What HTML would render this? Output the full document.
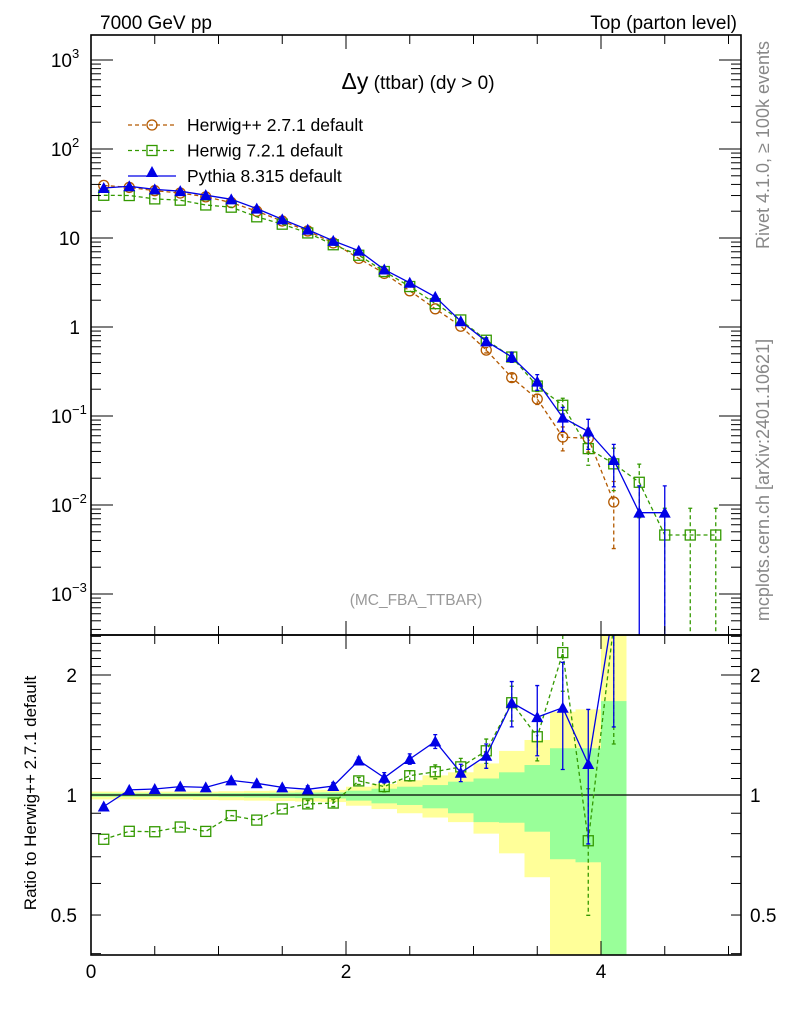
<!DOCTYPE html>
<html><head><meta charset="utf-8"><style>
html,body{margin:0;padding:0;background:#fff;}
svg{display:block;font-family:"Liberation Sans",sans-serif;}
</style></head><body>
<svg id="c" width="786" height="1024" viewBox="0 0 786 1024" xmlns="http://www.w3.org/2000/svg">
<g id="bands"></g>
<g id="main"></g>
<g id="ratio"></g>
<g id="axes"></g>
<text x="100" y="29" font-size="19">7000 GeV pp</text>
<text x="737" y="29" font-size="19" text-anchor="end">Top (parton level)</text>
<text x="418" y="89" font-size="19" text-anchor="middle"><tspan font-size="23">Δy</tspan> (ttbar) (dy &gt; 0)</text>
<text x="416" y="605" font-size="15.5" fill="#999" text-anchor="middle">(MC_FBA_TTBAR)</text>
<text transform="translate(769,145) rotate(-90)" font-size="18" fill="#888" text-anchor="middle">Rivet 4.1.0, ≥ 100k events</text>
<text transform="translate(769,480) rotate(-90)" font-size="18" fill="#888" text-anchor="middle">mcplots.cern.ch [arXiv:2401.10621]</text>
<text transform="translate(36,793) rotate(-90)" font-size="17" text-anchor="middle">Ratio to Herwig++ 2.7.1 default</text>
<g id="legend"></g>
</svg>
<script>
const centers=[0.1,0.3,0.5,0.7,0.9,1.1,1.3,1.5,1.7,1.9,2.1,2.3,2.5,2.7,2.9,3.1,3.3,3.5,3.7,3.9,4.1,4.3,4.5,4.7,4.9];
const hppVals=[39,37,34,32,29,25,20,15.5,12,8.8,5.9,4.0,2.55,1.6,1.02,0.55,0.27,0.155,0.058,0.056,0.0108];
const hppErr=[0.01,0.01,0.01,0.01,0.01,0.01,0.01,0.01,0.02,0.02,0.02,0.03,0.03,0.04,0.05,0.07,0.1,0.13,0.3,0.3,0.7];
const h7Vals=[30.2,30,27.5,26.6,23.5,22.2,17.3,14.3,11.4,8.4,6.4,4.2,2.85,1.83,1.2,0.71,0.46,0.217,0.132,0.043,0.029,0.018,0.0046,0.0046,0.0046];
const h7Err=[0.01,0.01,0.01,0.01,0.01,0.01,0.01,0.01,0.02,0.02,0.02,0.03,0.03,0.04,0.05,0.07,0.1,0.13,0.2,0.35,0.5,0.6,1,1,1];
const pyVals=[36.5,38.1,35.2,33.6,30.3,27.2,21.4,16.2,12.4,9.27,7.2,4.42,3.14,2.18,1.16,0.69,0.46,0.243,0.096,0.067,0.032,0.0082,0.0082];
const pyErr=[0.01,0.01,0.01,0.01,0.01,0.01,0.01,0.01,0.02,0.02,0.02,0.03,0.03,0.04,0.05,0.07,0.13,0.2,0.3,0.37,0.5,1,1];
const bandYHi=[1.02,1.02,1.02,1.02,1.02,1.022,1.024,1.026,1.028,1.03,1.049,1.066,1.089,1.12,1.14,1.2,1.29,1.374,1.618,1.64,3];
const bandGHi=[1.01,1.01,1.01,1.01,1.01,1.011,1.012,1.013,1.014,1.015,1.025,1.037,1.049,1.059,1.08,1.1,1.14,1.189,1.31,1.31,1.72];
const bandGLo=[0.99,0.99,0.99,0.99,0.99,0.988,0.986,0.984,0.982,0.98,0.968,0.953,0.944,0.926,0.9,0.855,0.852,0.809,0.69,0.678,0.3];
const bandYLo=[0.975,0.975,0.975,0.975,0.972,0.97,0.968,0.966,0.963,0.96,0.94,0.922,0.9,0.878,0.855,0.8,0.714,0.622,0.3,0.3,0.3];
const yTickExp=[-3,-2,-1,0,1,2,3];
const yTickText=["10","10","10","1","10","10","10"];
const yTickSup=["−3","−2","−1","","","2","3"];
const rTicks=[0.5,1,2];
const xTicks=[0,2,4];

const NS="http://www.w3.org/2000/svg";
const L=91,R=741,T=35,M=635,B=955;
const X=v=>L+(v/5.098)*(R-L);
const Y=v=>{const lv=Math.log10(Math.max(v,1e-9));return 327-(lv)*89;};
const YR=v=>795-Math.log10(Math.max(v,1e-9))*398.7;
function el(p,tag,a){const e=document.createElementNS(NS,tag);for(const k in a)e.setAttribute(k,a[k]);p.appendChild(e);return e;}
const main=document.getElementById('main'),ratio=document.getElementById('ratio'),bands=document.getElementById('bands'),axes=document.getElementById('axes'),legend=document.getElementById('legend');
const cm=(y)=>Math.min(Math.max(y,T),M), cr=(y)=>Math.min(Math.max(y,M),B);

bandYHi.forEach((v,i)=>{
  const x0=X(i*0.2),x1=X(i*0.2+0.2);
  let r=el(bands,'rect',{x:x0,y:cr(YR(v)),width:x1-x0,height:cr(YR(bandYLo[i]))-cr(YR(v)),fill:'#ffff99'});
  
  
  let g=el(bands,'rect',{x:x0,y:cr(YR(bandGHi[i])),width:x1-x0,height:cr(YR(bandGLo[i]))-cr(YR(bandGHi[i])),fill:'#99ff99'});
  
  
});
el(ratio,'line',{x1:L,x2:R,y1:YR(1),y2:YR(1),stroke:'#000','stroke-width':1.2});

function marker(p,type,x,y,col){
  let m;
  if(type==='c') m=el(p,'circle',{cx:x,cy:y,r:5,fill:'none',stroke:col,'stroke-width':1.3});
  else if(type==='s') m=el(p,'rect',{x:x-5,y:y-5,width:10,height:10,fill:'none',stroke:col,'stroke-width':1.3});
  else m=el(p,'polygon',{points:`${x},${y-6} ${x-6},${y+5} ${x+6},${y+5}`,fill:col});
  return m;
}
function series(vals,errs,col,type,dash,name,isRatio){
  const g=el(isRatio?ratio:main,'g',{});
  
  
  const yf=isRatio?YR:Y, clamp=isRatio?cr:cm;
  const pts=[];
  vals.forEach((v,i)=>{
    let rv=v; if(isRatio){ if(i>=hppVals.length) return; rv=v/hppVals[i]; }
    pts.push([X(centers[i]),yf(rv)]);
  });
  const d=pts.map((p,i)=>(i?'L':'M')+p[0].toFixed(1)+','+p[1].toFixed(1)).join(' ');
  const cp=el(g,'clipPath',{id:name+'-clip'});
  el(cp,'rect',{x:L,y:isRatio?M:T,width:R-L,height:isRatio?B-M:M-T});
  const inner=el(g,'g',{'clip-path':`url(#${name}-clip)`});
  const ln=el(inner,'path',{d:d,fill:'none',stroke:col,'stroke-width':1.3});
  if(dash) ln.setAttribute('stroke-dasharray','4,3');
  vals.forEach((v,i)=>{
    let rv=v; if(isRatio){ if(i>=hppVals.length) return; rv=v/hppVals[i]; }
    const x=X(centers[i]),e=errs[i]*rv;
    const y1=clamp(yf(rv+e)), y2=rv-e<=0?(isRatio?B:M):clamp(yf(rv-e));
    if(y2-y1>4){
      const eb=el(inner,'path',{d:`M${x},${y1}V${y2}M${x-2},${y1}H${x+2}M${x-2},${y2}H${x+2}`,stroke:col,'stroke-width':1.3,fill:'none'});
      if(dash) eb.setAttribute('stroke-dasharray','4,3');
    }
    const mk=marker(inner,type,x,yf(rv),col);
    
    
  });
}
series(hppVals,hppErr,'#b35900','c',true,'herwigpp-series',false);
series(h7Vals,h7Err,'#339900','s',true,'herwig7-series',false);
series(pyVals,pyErr,'#0000e6','t',false,'pythia-series',false);
series(h7Vals,h7Err,'#339900','s',true,'herwig7-ratio',true);
series(pyVals,pyErr,'#0000e6','t',false,'pythia-ratio',true);

el(axes,'rect',{x:L,y:T,width:R-L,height:M-T,fill:'none',stroke:'#000','stroke-width':1.6});
el(axes,'rect',{x:L,y:M,width:R-L,height:B-M,fill:'none',stroke:'#000','stroke-width':1.6});
for(let e=-4;e<=3;e++){for(let k=1;k<=9;k++){const y=Y(k*Math.pow(10,e));if(y<T||y>M)continue;const len=k===1?22:10;
  el(axes,'line',{x1:L,x2:L+len,y1:y,y2:y,stroke:'#000','stroke-width':1});
  el(axes,'line',{x1:R,x2:R-len,y1:y,y2:y,stroke:'#000','stroke-width':1});}}
yTickExp.forEach((e,i)=>{
  const t=el(axes,'text',{x:yTickSup[i]?72:80,y:Y(Math.pow(10,e))+7,'font-size':19,'text-anchor':'end'});
  t.textContent=yTickText[i];
  
  
  if(yTickSup[i]){const s=el(axes,'text',{x:72,y:Y(Math.pow(10,e))-2,'font-size':13});s.textContent=yTickSup[i];
    
    }
});
[0.4,0.5,0.6,0.7,0.8,0.9,1,1.1,1.2,1.3,1.4,1.5,1.6,1.7,1.8,1.9,2,2.1,2.2,2.3,2.4,2.5].forEach(v=>{const y=YR(v);if(y<M||y>B)return;const len=(v===1||v===2)?20:10;
  el(axes,'line',{x1:L,x2:L+len,y1:y,y2:y,stroke:'#000'});el(axes,'line',{x1:R,x2:R-len,y1:y,y2:y,stroke:'#000'});});
rTicks.forEach(v=>{
  const a=el(axes,'text',{x:77,y:YR(v)+7,'font-size':19,'text-anchor':'end'});a.textContent=String(v);
  
  
  const b=el(axes,'text',{x:750,y:YR(v)+7,'font-size':19});b.textContent=String(v);
  
  
});
for(let v=0;v<=5.01;v+=0.5){const x=X(v);const len=(Math.abs(v%2)<0.01)?14:9;
  [T,M].forEach(y0=>{el(axes,'line',{x1:x,x2:x,y1:y0,y2:y0+len,stroke:'#000'});});
  [M,B].forEach(y0=>{el(axes,'line',{x1:x,x2:x,y1:y0,y2:y0-len,stroke:'#000'});});}
xTicks.forEach(v=>{const t=el(axes,'text',{x:X(v),y:978,'font-size':19,'text-anchor':'middle'});t.textContent=String(v);
  
  });

const legNames=["Herwig++ 2.7.1 default","Herwig 7.2.1 default","Pythia 8.315 default"];
const legCols=['#b35900','#339900','#0000e6'],legTypes=['c','s','t'];
legNames.forEach((n,i)=>{
  const y=125+i*25.5;
  const g=el(legend,'g',{});
  
  
  const l=el(g,'line',{x1:128,x2:176,y1:y,y2:y,stroke:legCols[i],'stroke-width':1.3});
  if(i<2)l.setAttribute('stroke-dasharray','4,3');
  marker(g,legTypes[i],152,i===2?y-4:y,legCols[i]);
  const t=el(g,'text',{x:187,y:y+6,'font-size':17.5});t.textContent=n;
});
</script>
</body></html>
